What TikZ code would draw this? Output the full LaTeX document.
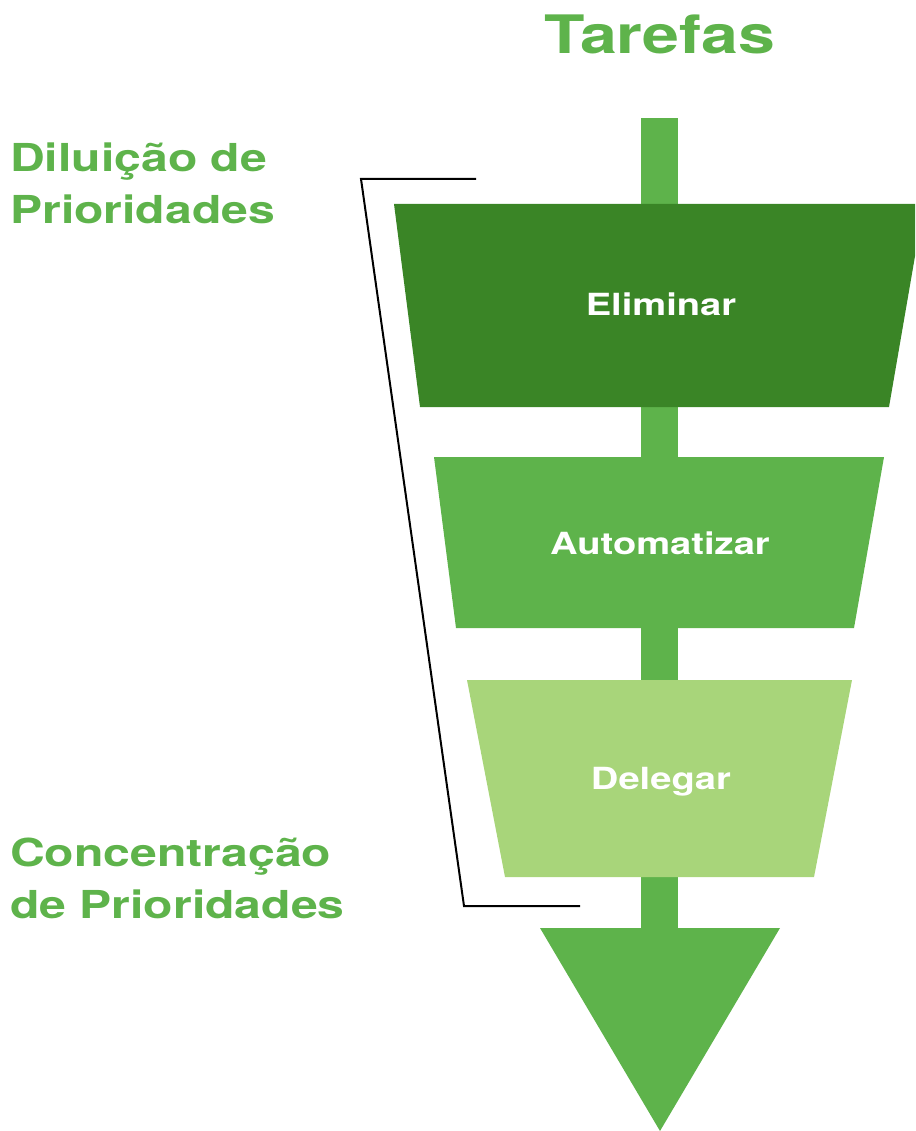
\documentclass[tikz,border=0pt]{standalone}
\usepackage{fontspec}
\newfontfamily\hf{TeX Gyre Heros}[FakeStretch=1.25]
\definecolor{gmid}{HTML}{5EB34B}
\definecolor{gdark}{HTML}{3A8526}
\definecolor{glight}{HTML}{A8D57A}
\begin{document}
\begin{tikzpicture}[x=1pt,y=-1pt,
  lbl/.style={font=\hf\bfseries\fontsize{30.5}{30.5}\selectfont, text=white, anchor=base, inner sep=0},
  side/.style={font=\hf\bfseries\fontsize{38.5}{52}\selectfont, text=gmid, align=left, anchor=base west, inner sep=0},
  ttl/.style={font=\hf\bfseries\fontsize{53}{53}\selectfont, text=gmid, anchor=base, inner sep=0},
  brk/.style={draw=black, line width=2pt}]
\useasboundingbox (0,0) rectangle (915,1131);
\clip (0,0) rectangle (915,1131);
% central bar
\fill[gmid] (641,118) rectangle (678,930);
% funnel stages
\fill[gdark] (394,204) -- (924,204) -- (889,407) -- (420,407) -- cycle;
\fill[gmid] (434,457) -- (884,457) -- (854,628) -- (456,628) -- cycle;
\fill[glight] (467,680) -- (852,680) -- (814,877) -- (505,877) -- cycle;
\fill[gmid] (540,928) -- (780,928) -- (660,1131) -- cycle;
% labels
\node[ttl] (title) at (660,54) {Tarefas};
\node[lbl] (elim) at (661,316) {Eliminar};
\node[lbl] (auto) at (660,554) {Automatizar};
\node[lbl] (deleg) at (661,789) {Delegar};
\node[side] (dil) at (10,224) {Diluição de\\Prioridades};
\node[side] (conc) at (10,918) {Concentração\\de Prioridades};
% bracket
\coordinate (b1) at (476,179);
\coordinate (b2) at (361,179);
\coordinate (b3) at (464,906);
\coordinate (b4) at (580,906);
\draw[brk] (b1) -- (b2) -- (b3) -- (b4);
\end{tikzpicture}
\end{document}
